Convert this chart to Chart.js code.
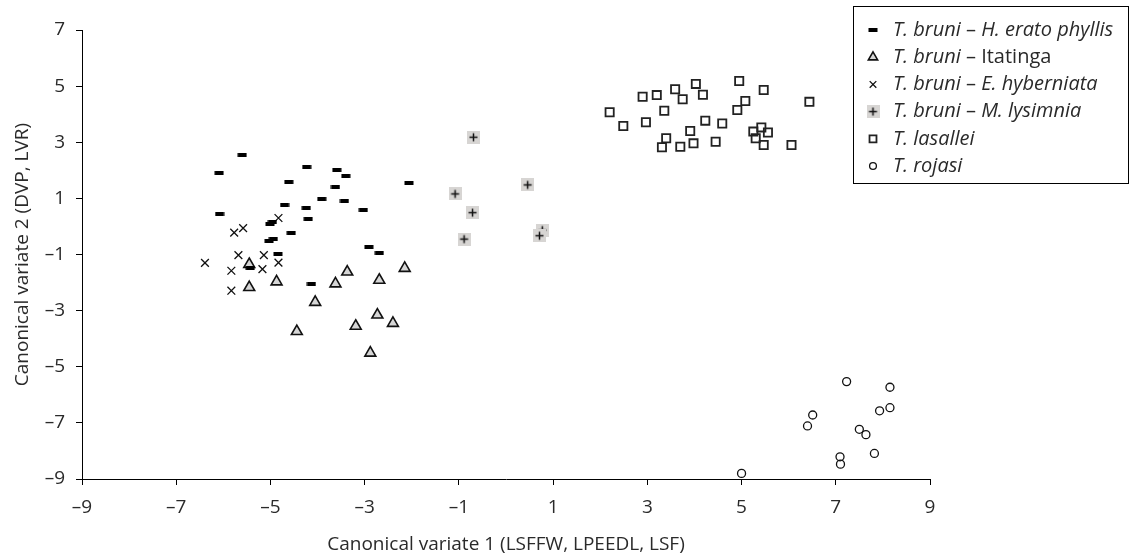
<!DOCTYPE html>
<html><head><meta charset="utf-8">
<script src="https://cdn.jsdelivr.net/npm/chart.js@4.4.1/dist/chart.umd.min.js"></script>
<style>html,body{margin:0;padding:0;background:#fff}#wrap{position:relative;width:1130px;height:559px}</style>
</head><body><div id="wrap"><canvas id="c"></canvas></div>
<script>
const FONT = "'Open Sans', 'Noto Sans', sans-serif";

// ---- data ----
const eratoX = [-5.60,-6.09,-4.23,-3.59,-3.40,-4.61,-3.62,-3.91,-3.43,-4.70,-4.24,-3.03,-6.08,-4.20,-5.01,-4.96,-4.56,-4.94,-5.03,-2.91,-2.69,-4.84,-5.43,-4.13,-2.06];
const eratoY = [2.55,1.91,2.11,2.02,1.79,1.58,1.40,0.99,0.92,0.78,0.65,0.57,0.44,0.26,0.10,0.16,-0.22,-0.45,-0.51,-0.73,-0.94,-0.99,-1.47,-2.05,1.54];

const itatingaX = [-5.45,-5.45,-4.87,-4.05,-3.62,-3.37,-2.69,-2.15,-4.44,-3.19,-2.73,-2.40,-2.88];
const itatingaY = [-1.35,-2.17,-1.97,-2.70,-2.04,-1.62,-1.91,-1.49,-3.74,-3.55,-3.15,-3.45,-4.51];

const hyberX = [-4.83,-5.77,-5.58,-5.68,-5.14,-6.39,-4.83,-5.83,-5.17,-5.83];
const hyberY = [0.30,-0.22,-0.06,-1.02,-1.02,-1.30,-1.29,-1.58,-1.52,-2.29];

const lysimniaX = [-0.69,-1.08,-0.71,-0.89,0.46,0.77,0.71];
const lysimniaY = [3.18,1.16,0.49,-0.45,1.48,-0.13,-0.33];

const lasalleiX = [2.20,2.49,2.90,3.20,2.97,3.59,3.75,4.03,4.18,3.36,3.40,3.31,3.91,3.70,3.98,4.23,4.45,4.59,4.95,5.08,4.91,5.47,5.25,5.42,5.56,5.30,5.47,6.06,6.44];
const lasalleiY = [4.07,3.58,4.62,4.68,3.71,4.89,4.53,5.08,4.69,4.12,3.14,2.82,3.40,2.84,2.96,3.77,3.02,3.67,5.18,4.47,4.15,4.86,3.38,3.53,3.35,3.14,2.90,2.90,4.44];

const rojasiX = [7.23,8.15,6.51,6.40,7.93,8.15,7.50,7.64,7.82,7.09,7.10,5.00];
const rojasiY = [-5.53,-5.73,-6.72,-7.11,-6.57,-6.46,-7.23,-7.42,-8.09,-8.21,-8.47,-8.80];

// legend text segments: [text, italic]
const legendLabels = [
  [['T. bruni', true], [' – ', false], ['H. erato phyllis', true]],
  [['T. bruni', true], [' – Itatinga', false]],
  [['T. bruni', true], [' – ', false], ['E. hyberniata', true]],
  [['T. bruni', true], [' – ', false], ['M. lysimnia', true]],
  [['T. lasallei', true]],
  [['T. rojasi', true]]
];

const xTicks = [-9,-7,-5,-3,-1,1,3,5,7,9];
const yTicks = [-9,-7,-5,-3,-1,1,3,5,7];
const xTitle = 'Canonical variate 1 (LSFFW, LPEEDL, LSF)';
const yTitle = 'Canonical variate 2 (DVP, LVR)';

// ---- marker images ----
function dashIcon(){
  const c = document.createElement('canvas'); c.width = 10; c.height = 4;
  const g = c.getContext('2d'); g.fillStyle = '#000'; g.fillRect(0.5,0,9,4); return c;
}
function plusBoxIcon(){
  const c = document.createElement('canvas'); c.width = 13; c.height = 13;
  const g = c.getContext('2d'); g.fillStyle = '#d7d5d3'; g.fillRect(0,0,13,13);
  g.strokeStyle = '#111'; g.lineWidth = 1.5;
  g.beginPath(); g.moveTo(2.5,6.5); g.lineTo(10.5,6.5); g.moveTo(6.5,2.5); g.lineTo(6.5,10.5); g.stroke();
  return c;
}
const DASH = dashIcon(), PLUSBOX = plusBoxIcon();

function pts(xs, ys){ return xs.map((x,i)=>({x, y: ys[i]})); }

const datasets = [
  {label:'H. erato phyllis', data: pts(eratoX, eratoY), pointStyle: DASH, pointRadius: 5,
   pointBackgroundColor:'#000', pointBorderColor:'#000', pointBorderWidth:0},
  {label:'Itatinga', data: pts(itatingaX, itatingaY), pointStyle:'triangle', pointRadius: 6.3,
   pointBackgroundColor:'#d6d6d6', pointBorderColor:'#111', pointBorderWidth:1.6},
  {label:'E. hyberniata', data: pts(hyberX, hyberY), pointStyle:'crossRot', pointRadius: 5.5,
   pointBackgroundColor:'#111', pointBorderColor:'#111', pointBorderWidth:1.3},
  {label:'M. lysimnia', data: pts(lysimniaX, lysimniaY), pointStyle: PLUSBOX, pointRadius: 6,
   pointBackgroundColor:'#000', pointBorderColor:'#000', pointBorderWidth:0},
  {label:'T. lasallei', data: pts(lasalleiX, lasalleiY), pointStyle:'rect', pointRadius: 5.8,
   pointBackgroundColor:'rgba(0,0,0,0)', pointBorderColor:'#222', pointBorderWidth:1.8},
  {label:'T. rojasi', data: pts(rojasiX, rojasiY), pointStyle:'circle', pointRadius: 4,
   pointBackgroundColor:'rgba(0,0,0,0)', pointBorderColor:'#111', pointBorderWidth:1.3}
];
datasets.forEach(d => { d.showLine = false; d.clip = false; d.pointHoverRadius = d.pointRadius; });

const fmt = v => v < 0 ? '\u2013' + Math.abs(v) : String(v);

const bgPlugin = { id:'bg', beforeDraw(chart){ const c=chart.ctx; c.save(); c.fillStyle='#fff'; c.fillRect(0,0,chart.width,chart.height); c.restore(); } };

const legendPlugin = {
  id:'boxLegend',
  afterDraw(chart){
    const ctx = chart.ctx;
    ctx.save();
    ctx.strokeStyle = '#000'; ctx.lineWidth = 1;
    ctx.strokeRect(853.5, 6.5, 275, 177);
    const y0 = 30, dy = 27.2;
    chart.data.datasets.forEach((ds, i) => {
      const y = y0 + i*dy;
      ctx.fillStyle = ds.pointBackgroundColor;
      ctx.strokeStyle = ds.pointBorderColor;
      ctx.lineWidth = ds.pointBorderWidth;
      Chart.helpers.drawPoint(ctx, {pointStyle: ds.pointStyle, radius: ds.pointRadius*0.85, rotation: 0, borderWidth: ds.pointBorderWidth}, 873, y);
      let x = 893;
      ctx.textBaseline = 'middle'; ctx.textAlign = 'left'; ctx.fillStyle = '#2a2a2a';
      for (const [t, it] of legendLabels[i]) {
        ctx.font = (it ? 'italic ' : '') + '20px ' + FONT;
        ctx.fillText(t, x, y);
        x += ctx.measureText(t).width;
      }
    });
    ctx.restore();
  }
};

new Chart(document.getElementById('c'), {
  type:'scatter',
  data:{ datasets },
  options:{
    responsive:true, maintainAspectRatio:false, animation:false, events:[],
    layout:{ padding:{ top:30, right:200, bottom:0, left:0 } },
    plugins:{ legend:{display:false}, tooltip:{enabled:false} },
    scales:{
      x:{
        type:'linear', min:-9, max:9,
        afterFit(s){ s.height = 80; },
        afterBuildTicks(s){ s.ticks = xTicks.map(v=>({value:v})); },
        border:{ display:true, color:'#000', width:1 },
        grid:{ drawOnChartArea:false, drawTicks:true, tickLength:6, color:'#000', lineWidth:1 },
        ticks:{ callback: fmt, color:'#2a2a2a', font:{ family:FONT, size:19 }, padding:11, maxRotation:0 },
        title:{ display:true, text:xTitle, color:'#2a2a2a', font:{ family:FONT, size:19 }, padding:{ top:0, bottom:3 } }
      },
      y:{
        type:'linear', min:-9, max:7,
        afterFit(s){ s.width = 82; },
        afterBuildTicks(s){ s.ticks = yTicks.map(v=>({value:v})); },
        border:{ display:true, color:'#000', width:1 },
        grid:{ drawOnChartArea:false, drawTicks:true, tickLength:6, color:'#000', lineWidth:1 },
        ticks:{ callback: fmt, color:'#2a2a2a', font:{ family:FONT, size:19 }, padding:11 },
        title:{ display:true, text:yTitle, color:'#2a2a2a', font:{ family:FONT, size:19 }, padding:{ top:11, bottom:0 } }
      }
    }
  },
  plugins:[bgPlugin, legendPlugin]
});
</script></body></html>
